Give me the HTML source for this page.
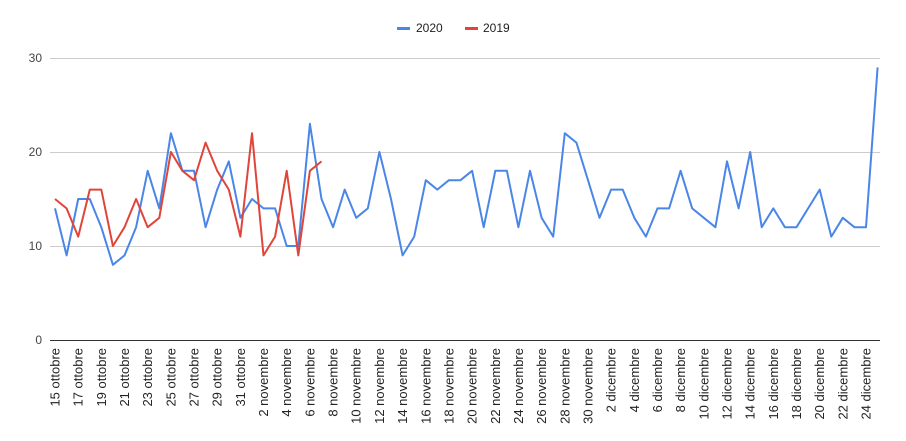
<!DOCTYPE html>
<html><head><meta charset="utf-8"><style>body{margin:0;background:#fff}svg{display:block;font-family:"Liberation Sans",Arial,sans-serif}</style></head>
<body>
<svg width="906" height="441" viewBox="0 0 906 441">
<g stroke="#ccc" stroke-width="1">
<line x1="50" y1="58.5" x2="880" y2="58.5"/>
<line x1="50" y1="152.5" x2="880" y2="152.5"/>
<line x1="50" y1="246.5" x2="880" y2="246.5"/>
</g>
<line x1="50" y1="340.5" x2="880" y2="340.5" stroke="#333" stroke-width="1"/>
<g font-size="12" fill="#444" text-anchor="end">
<text x="42" y="62">30</text><text x="42" y="156">20</text><text x="42" y="250">10</text><text x="42" y="344">0</text>
</g>
<g stroke-width="1" font-size="12" fill="#222">
<rect x="397" y="27" width="13" height="3" fill="#4a86e8"/><text x="416" y="32">2020</text>
<rect x="465" y="27" width="13" height="3" fill="#e0453a"/><text x="483" y="32">2019</text>
</g>
<polyline fill="none" stroke="#4a86e8" stroke-width="2" stroke-linejoin="round" points="55,208.4 66.6,255.4 78.2,199 89.8,199 101.3,227.2 112.9,264.8 124.5,255.4 136.1,227.2 147.7,170.8 159.3,208.4 170.9,133.2 182.4,170.8 194,170.8 205.6,227.2 217.2,189.6 228.8,161.4 240.4,217.8 252,199 263.5,208.4 275.1,208.4 286.7,246 298.3,246 309.9,123.8 321.5,199 333.1,227.2 344.7,189.6 356.2,217.8 367.8,208.4 379.4,152 391,199 402.6,255.4 414.2,236.6 425.8,180.2 437.3,189.6 448.9,180.2 460.5,180.2 472.1,170.8 483.7,227.2 495.3,170.8 506.9,170.8 518.4,227.2 530,170.8 541.6,217.8 553.2,236.6 564.8,133.2 576.4,142.6 588,180.2 599.5,217.8 611.1,189.6 622.7,189.6 634.3,217.8 645.9,236.6 657.5,208.4 669.1,208.4 680.6,170.8 692.2,208.4 703.8,217.8 715.4,227.2 727,161.4 738.6,208.4 750.2,152 761.7,227.2 773.3,208.4 784.9,227.2 796.5,227.2 808.1,208.4 819.7,189.6 831.3,236.6 842.8,217.8 854.4,227.2 866,227.2 877.6,67.4"/>
<polyline fill="none" stroke="#e0453a" stroke-width="2" stroke-linejoin="round" points="55,199 66.6,208.4 78.2,236.6 89.8,189.6 101.3,189.6 112.9,246 124.5,227.2 136.1,199 147.7,227.2 159.3,217.8 170.9,152 182.4,170.8 194,180.2 205.6,142.6 217.2,170.8 228.8,189.6 240.4,236.6 252,133.2 263.5,255.4 275.1,236.6 286.7,170.8 298.3,255.4 309.9,170.8 321.5,161.4"/>
<g font-size="13" fill="#222" text-anchor="end">
<text transform="translate(59.5,348) rotate(-90)">15 ottobre</text>
<text transform="translate(82.7,348) rotate(-90)">17 ottobre</text>
<text transform="translate(105.8,348) rotate(-90)">19 ottobre</text>
<text transform="translate(129,348) rotate(-90)">21 ottobre</text>
<text transform="translate(152.2,348) rotate(-90)">23 ottobre</text>
<text transform="translate(175.4,348) rotate(-90)">25 ottobre</text>
<text transform="translate(198.5,348) rotate(-90)">27 ottobre</text>
<text transform="translate(221.7,348) rotate(-90)">29 ottobre</text>
<text transform="translate(244.9,348) rotate(-90)">31 ottobre</text>
<text transform="translate(268,348) rotate(-90)">2 novembre</text>
<text transform="translate(291.2,348) rotate(-90)">4 novembre</text>
<text transform="translate(314.4,348) rotate(-90)">6 novembre</text>
<text transform="translate(337.6,348) rotate(-90)">8 novembre</text>
<text transform="translate(360.7,348) rotate(-90)">10 novembre</text>
<text transform="translate(383.9,348) rotate(-90)">12 novembre</text>
<text transform="translate(407.1,348) rotate(-90)">14 novembre</text>
<text transform="translate(430.3,348) rotate(-90)">16 novembre</text>
<text transform="translate(453.4,348) rotate(-90)">18 novembre</text>
<text transform="translate(476.6,348) rotate(-90)">20 novembre</text>
<text transform="translate(499.8,348) rotate(-90)">22 novembre</text>
<text transform="translate(522.9,348) rotate(-90)">24 novembre</text>
<text transform="translate(546.1,348) rotate(-90)">26 novembre</text>
<text transform="translate(569.3,348) rotate(-90)">28 novembre</text>
<text transform="translate(592.5,348) rotate(-90)">30 novembre</text>
<text transform="translate(615.6,348) rotate(-90)">2 dicembre</text>
<text transform="translate(638.8,348) rotate(-90)">4 dicembre</text>
<text transform="translate(662,348) rotate(-90)">6 dicembre</text>
<text transform="translate(685.1,348) rotate(-90)">8 dicembre</text>
<text transform="translate(708.3,348) rotate(-90)">10 dicembre</text>
<text transform="translate(731.5,348) rotate(-90)">12 dicembre</text>
<text transform="translate(754.7,348) rotate(-90)">14 dicembre</text>
<text transform="translate(777.8,348) rotate(-90)">16 dicembre</text>
<text transform="translate(801,348) rotate(-90)">18 dicembre</text>
<text transform="translate(824.2,348) rotate(-90)">20 dicembre</text>
<text transform="translate(847.3,348) rotate(-90)">22 dicembre</text>
<text transform="translate(870.5,348) rotate(-90)">24 dicembre</text>
</g>
</svg>
</body></html>
